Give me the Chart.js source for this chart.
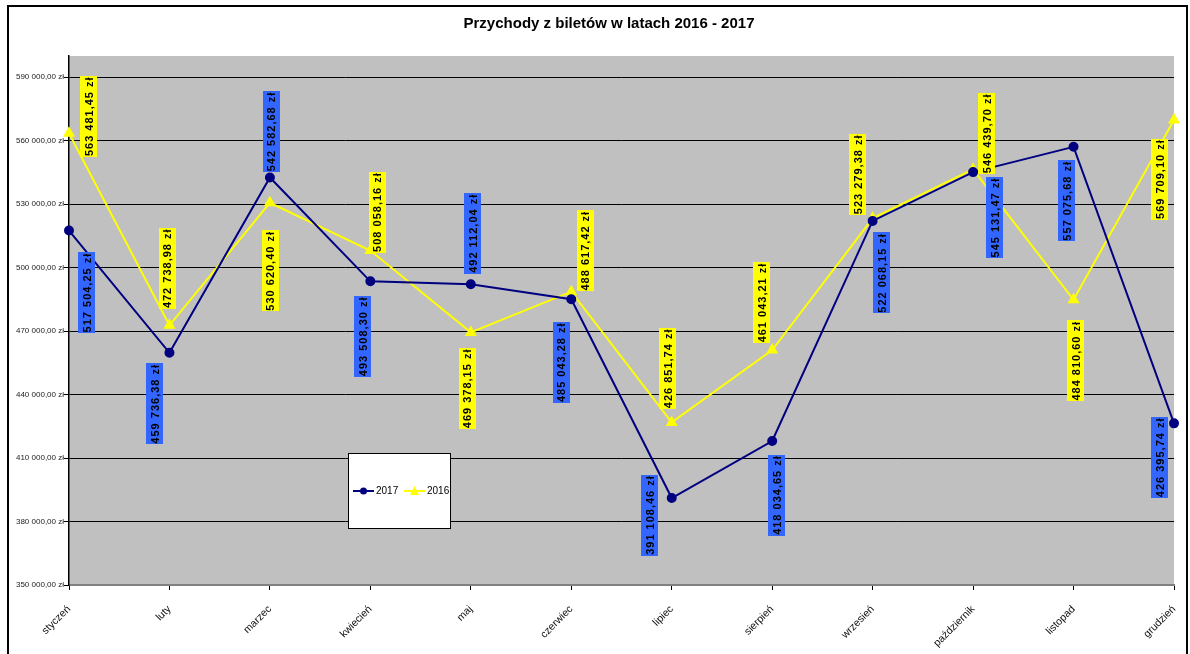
<!DOCTYPE html>
<html>
<head>
<meta charset="utf-8">
<script src="https://cdn.jsdelivr.net/npm/chart.js@4.4.1/dist/chart.umd.min.js"></script>
<style>
html,body{margin:0;padding:0;background:#fff;overflow:hidden;}
#wrap{width:1190px;height:654px;position:relative;}
</style>
</head>
<body>
<div id="wrap"><canvas id="c" width="1190" height="654"></canvas></div>
<script>
// ---- data ----
const chartTitle = "Przychody z biletów w latach 2016 - 2017";
const months = ["styczeń","luty","marzec","kwiecień","maj","czerwiec","lipiec","sierpień","wrzesień","październik","listopad","grudzień"];
const seriesNames = ["2017","2016"];
const values2017 = [517504.25,459736.38,542582.68,493508.30,492112.04,485043.28,391108.46,418034.65,522068.15,545131.47,557075.68,426395.74];
const values2016 = [563481.45,472738.98,530620.40,508058.16,469378.15,488617.42,426851.74,461043.21,523279.38,546439.70,484810.60,569709.10];
const yTickValues = [350000,380000,410000,440000,470000,500000,530000,560000,590000];

// ---- label placement (offset of label box centre from its point, px) ----
const labelOffsets2017 = [[17.5,62],[-14.5,51],[1.5,-46],[-7.5,55],[2,-51],[-10,63],[-22,17],[4.5,54],[9,52],[21.5,45.5],[-7,54],[-14.5,34]];
const labelOffsets2016 = [[19.5,-17],[-2,-57],[0.5,68],[7,-38.5],[-3.5,56],[14,-41],[-4,-54],[-10.5,-47.5],[-15,-44],[13.5,-36],[2,61],[-14.5,59]];

function fmtPLN(v){
  const parts = v.toFixed(2).split('.');
  const intPart = parts[0].replace(/\B(?=(\d{3})+(?!\d))/g,' ');
  return intPart + ',' + parts[1] + ' zł';
}

const FONT = "'Liberation Sans', Arial, sans-serif";

const decorPlugin = {
  id:'decor',
  beforeDraw(chart){
    const {ctx, chartArea:a} = chart;
    ctx.save();
    ctx.fillStyle = '#fff';
    ctx.fillRect(0,0,chart.width,chart.height);
    ctx.fillStyle = '#C0C0C0';
    ctx.fillRect(a.left,a.top,a.right-a.left,a.bottom-a.top);
    ctx.restore();
  },
  afterDatasetsDraw(chart){
    const {ctx} = chart;
    const offsetsList = [labelOffsets2017, labelOffsets2016];
    const boxColors = ['#3366FF','#FFFF00'];
    ctx.save();
    ctx.font = "bold 11px " + FONT;
    try { ctx.letterSpacing = '1px'; } catch(e) {}
    for (let d=0; d<chart.data.datasets.length; d++){
      const meta = chart.getDatasetMeta(d);
      const ds = chart.data.datasets[d];
      meta.data.forEach((pt,i)=>{
        const txt = fmtPLN(ds.data[i]);
        const cx = pt.x + offsetsList[d][i][0];
        const cy = pt.y + offsetsList[d][i][1];
        const w = 17, h = 81;
        ctx.fillStyle = boxColors[d];
        ctx.fillRect(Math.round(cx - w/2), Math.round(cy - h/2), w, h);
        ctx.save();
        ctx.translate(cx, cy);
        ctx.rotate(-Math.PI/2);
        ctx.fillStyle = '#000';
        ctx.textAlign = 'center';
        ctx.textBaseline = 'middle';
        ctx.fillText(txt, 0, 1);
        ctx.restore();
      });
    }
    ctx.restore();
  },
  afterDraw(chart){
    const {ctx} = chart;
    ctx.save();
    // title
    ctx.fillStyle = '#000';
    ctx.font = "bold 15px " + FONT;
    ctx.textAlign = 'center';
    ctx.textBaseline = 'middle';
    ctx.fillText(chartTitle, 609, 24);
    // legend box
    const lx = 348, ly = 453, lw = 102, lh = 75;
    ctx.fillStyle = '#fff';
    ctx.fillRect(lx,ly,lw,lh);
    ctx.strokeStyle = '#000';
    ctx.lineWidth = 1;
    ctx.strokeRect(lx+0.5,ly+0.5,lw,lh);
    const yy = 491;
    const items = chart.data.datasets;
    let x = 353;
    ctx.font = "10px " + FONT;
    ctx.textAlign = 'left';
    ctx.textBaseline = 'middle';
    items.forEach((ds,k)=>{
      ctx.strokeStyle = ds.borderColor;
      ctx.lineWidth = 2;
      ctx.beginPath(); ctx.moveTo(x,yy); ctx.lineTo(x+21,yy); ctx.stroke();
      ctx.fillStyle = ds.borderColor;
      if (ds.pointStyle === 'circle'){
        ctx.beginPath(); ctx.arc(x+10.5,yy,3.5,0,Math.PI*2); ctx.fill();
      } else {
        ctx.beginPath(); ctx.moveTo(x+10.5,yy-5); ctx.lineTo(x+15,yy+4); ctx.lineTo(x+6,yy+4); ctx.closePath(); ctx.fill();
      }
      ctx.fillStyle = '#000';
      ctx.fillText(ds.label, x+23, yy);
      x += 51;
    });
    // outer frame
    ctx.strokeStyle = '#000';
    ctx.lineWidth = 2;
    ctx.beginPath();
    ctx.moveTo(8,660); ctx.lineTo(8,6); ctx.lineTo(1187,6); ctx.lineTo(1187,660);
    ctx.stroke();
    ctx.restore();
  }
};

new Chart(document.getElementById('c'), {
  type:'line',
  data:{
    labels: months,
    datasets:[
      {label: seriesNames[0], data: values2017, borderColor:'#000080', backgroundColor:'#000080',
       borderWidth:2, pointStyle:'circle', pointRadius:4, pointHoverRadius:4, tension:0},
      {label: seriesNames[1], data: values2016, borderColor:'#FFFF00', backgroundColor:'#FFFF00',
       borderWidth:2, pointStyle:'triangle', pointRadius:5, pointHoverRadius:5, tension:0}
    ]
  },
  options:{
    responsive:false,
    animation:false,
    events:[],
    layout:{padding:{left:0,right:16,top:56,bottom:0}},
    plugins:{
      legend:{display:false},
      tooltip:{enabled:false},
      title:{display:false}
    },
    scales:{
      x:{
        offset:false,
        afterFit(s){ s.height = 69; s.paddingLeft = 0; s.paddingRight = 0; },
        grid:{drawOnChartArea:false, drawTicks:true, tickLength:5, tickColor:'#000', tickWidth:1},
        border:{color:'#808080', width:2},
        ticks:{autoSkip:false, minRotation:45, maxRotation:45, color:'#111', padding:13,
          font:{family:FONT, size:10.5}}
      },
      y:{
        min:350000, max:600000,
        afterFit(s){ s.width = 69; },
        afterBuildTicks(s){ s.ticks = yTickValues.map(v=>({value:v})); },
        grid:{color:'#000', lineWidth:1, drawTicks:true, tickLength:5, tickColor:'#000'},
        border:{color:'#000', width:1.5},
        ticks:{color:'#222', padding:0, font:{family:FONT, size:8},
          callback:(v)=>fmtPLN(v)}
      }
    }
  },
  plugins:[decorPlugin]
});
</script>
</body>
</html>
